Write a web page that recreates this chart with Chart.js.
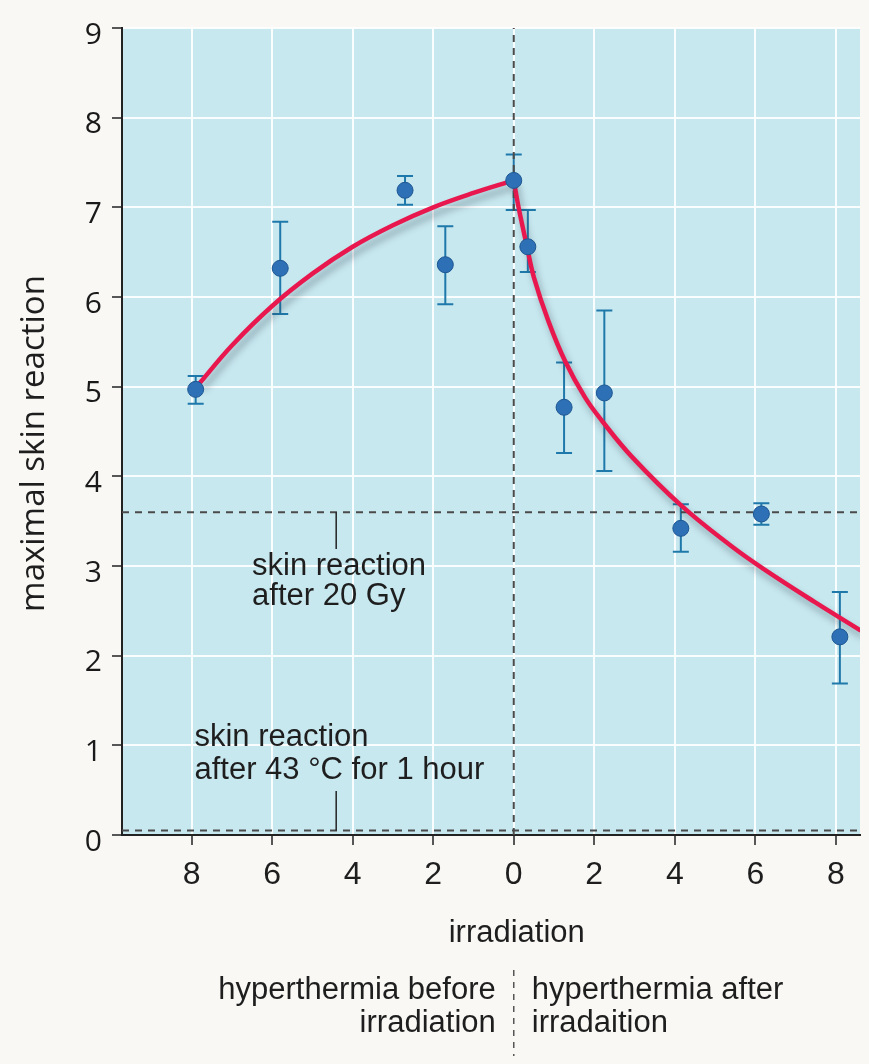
<!DOCTYPE html>
<html>
<head>
<meta charset="utf-8">
<script src="https://cdn.jsdelivr.net/npm/chart.js@4.4.1/dist/chart.umd.min.js"></script>
<style>
  html, body { margin: 0; padding: 0; background: #f9f8f5; }
  canvas { display: block; }
</style>
</head>
<body>
<canvas id="chart" width="869" height="1064"></canvas>
<script>
// measured points (hours between hyperthermia and irradiation; negative = before)
var pointX   = [-7.9, -5.8, -2.7, -1.7, 0.0, 0.35, 1.25, 2.25, 4.15, 6.15, 8.1];
var pointY   = [4.97, 6.32, 7.19, 6.36, 7.30, 6.56, 4.77, 4.93, 3.42, 3.58, 2.21];
var errHigh  = [5.12, 6.84, 7.35, 6.79, 7.59, 6.97, 5.27, 5.85, 3.69, 3.70, 2.71];
var errLow   = [4.81, 5.81, 7.03, 5.92, 6.97, 6.28, 4.26, 4.06, 3.16, 3.46, 1.69];

// fitted curve
var beforeX = [-7.8, -7, -6, -5, -4, -3, -2, -1, 0];
var beforeY = [5.04, 5.46, 5.90, 6.26, 6.56, 6.80, 7.00, 7.16, 7.30];
var afterX  = [0, 0.12, 0.33, 0.5, 0.87, 1.28, 1.77, 2.19, 2.93, 4.17, 5.41, 6.23, 7.47, 8.62];
var afterY  = [7.30, 7.00, 6.56, 6.22, 5.72, 5.28, 4.88, 4.62, 4.22, 3.67, 3.22, 2.96, 2.60, 2.28];

// reference levels
var level20Gy = 3.6;
var levelHeat = 0.05;

var xMin = -9.73, xMax = 8.6;
var yMin = 0, yMax = 9;
var xTickValues = [-8, -6, -4, -2, 0, 2, 4, 6, 8];

function zip(xs, ys) {
    return xs.map(function(x, i) { return { x: x, y: ys[i] }; });
}

var LABEL_FONT = '"Liberation Sans", Arial, sans-serif';
var NUM_FONT = '"Open Sans", "Noto Sans", sans-serif';

var backgroundPlugin = {
    id: 'background',
    beforeDraw: function(chart) {
        var ctx = chart.ctx, a = chart.chartArea;
        ctx.save();
        ctx.fillStyle = '#f9f8f5';
        ctx.fillRect(0, 0, chart.width, chart.height);
        ctx.fillStyle = '#c8e8f0';
        ctx.fillRect(a.left, a.top, a.right - a.left, a.bottom - a.top);
        ctx.restore();
    }
};

var errorBarPlugin = {
    id: 'errorBars',
    beforeDatasetsDraw: function(chart) {
        var ctx = chart.ctx, xs = chart.scales.x, ys = chart.scales.y;
        ctx.save();
        ctx.strokeStyle = '#1f78aa';
        ctx.lineWidth = 2;
        pointX.forEach(function(x, i) {
            var px = xs.getPixelForValue(x);
            var top = ys.getPixelForValue(errHigh[i]);
            var bot = ys.getPixelForValue(errLow[i]);
            ctx.beginPath();
            ctx.moveTo(px, top); ctx.lineTo(px, bot);
            ctx.moveTo(px - 8, top); ctx.lineTo(px + 8, top);
            ctx.moveTo(px - 8, bot); ctx.lineTo(px + 8, bot);
            ctx.stroke();
        });
        ctx.restore();
    },
    beforeDatasetDraw: function(chart, args) {
        var ds = chart.data.datasets[args.index];
        if (ds.shadow) {
            chart.ctx.save();
            chart.ctx.shadowColor = 'rgba(40,60,70,0.4)';
            chart.ctx.shadowBlur = 7;
            chart.ctx.shadowOffsetX = 3;
            chart.ctx.shadowOffsetY = 6;
        }
    },
    afterDatasetDraw: function(chart, args) {
        if (chart.data.datasets[args.index].shadow) chart.ctx.restore();
    }
};

var textPlugin = {
    id: 'texts',
    afterDraw: function(chart) {
        var ctx = chart.ctx, xs = chart.scales.x, ys = chart.scales.y, a = chart.chartArea;
        ctx.save();
        ctx.fillStyle = '#1e1e1e';
        ctx.textBaseline = 'alphabetic';

        // notes inside the plot
        ctx.font = '31px ' + LABEL_FONT;
        ctx.textAlign = 'left';
        ctx.fillText('skin reaction', xs.getPixelForValue(-6.5), ys.getPixelForValue(2.9));
        ctx.fillText('after 20 Gy', xs.getPixelForValue(-6.5), ys.getPixelForValue(2.57));
        ctx.fillText('skin reaction', xs.getPixelForValue(-7.93), ys.getPixelForValue(0.99));
        ctx.fillText('after 43 \u00B0C for 1 hour', xs.getPixelForValue(-7.93), ys.getPixelForValue(0.63));

        // y title
        ctx.font = '33px ' + NUM_FONT;
        ctx.textAlign = 'center';
        ctx.textBaseline = 'middle';
        ctx.translate(35, (a.top + a.bottom) / 2 + 12);
        ctx.rotate(-Math.PI / 2);
        ctx.fillText('maximal skin reaction', 0, 0);
        ctx.restore();

        // below the axis
        var x0 = xs.getPixelForValue(0);
        ctx.save();
        ctx.fillStyle = '#1e1e1e';
        ctx.font = '31px ' + LABEL_FONT;
        ctx.textBaseline = 'alphabetic';
        ctx.textAlign = 'center';
        ctx.fillText('irradiation', x0 + 3, 942);
        ctx.textAlign = 'right';
        ctx.fillText('hyperthermia before', x0 - 18, 999);
        ctx.fillText('irradiation', x0 - 18, 1032);
        ctx.textAlign = 'left';
        ctx.fillText('hyperthermia after', x0 + 18, 999);
        ctx.fillText('irradaition', x0 + 18, 1032);

        ctx.strokeStyle = '#555';
        ctx.lineWidth = 1.5;
        ctx.setLineDash([6, 6]);
        ctx.beginPath();
        ctx.moveTo(x0, 970);
        ctx.lineTo(x0, 1056);
        ctx.stroke();
        ctx.restore();
    }
};

var dashed = { borderColor: '#4a4a4a', borderWidth: 2, borderDash: [7, 6], pointRadius: 0, showLine: true, fill: false };
var curve = { showLine: true, borderColor: '#e8184f', borderWidth: 4.5, pointRadius: 0, tension: 0.4, fill: false, shadow: true };
var leader = { showLine: true, borderColor: '#222', borderWidth: 1.5, pointRadius: 0 };

new Chart(document.getElementById('chart'), {
    type: 'scatter',
    data: {
        datasets: [
            {
                label: 'measured',
                data: zip(pointX, pointY),
                pointRadius: 8,
                pointBackgroundColor: '#2d70b6',
                pointBorderColor: '#1d5792',
                pointBorderWidth: 1,
            },
            Object.assign({ label: 'before', data: zip(beforeX, beforeY) }, curve),
            Object.assign({ label: 'after', data: zip(afterX, afterY) }, curve),
            Object.assign({ label: 'note 20 Gy', data: [{ x: -4.41, y: level20Gy }, { x: -4.41, y: 3.19 }] }, leader),
            Object.assign({ label: 'note heat', data: [{ x: -4.41, y: levelHeat }, { x: -4.41, y: 0.49 }] }, leader),
            Object.assign({ label: '20 Gy', data: [{ x: xMin, y: level20Gy }, { x: xMax, y: level20Gy }] }, dashed),
            Object.assign({ label: '43 C', data: [{ x: xMin, y: levelHeat }, { x: xMax, y: levelHeat }] }, dashed),
            Object.assign({ label: 'irradiation', data: [{ x: 0, y: yMin }, { x: 0, y: yMax }] }, dashed),
        ],
    },
    options: {
        responsive: false,
        animation: false,
        layout: { padding: { top: 24, right: -5, left: 0, bottom: 0 } },
        plugins: { legend: { display: false }, tooltip: { enabled: false } },
        scales: {
            x: {
                type: 'linear',
                min: xMin,
                max: xMax,
                afterBuildTicks: function(s) { s.ticks = xTickValues.map(function(v) { return { value: v }; }); },
                afterFit: function(s) { s.height = 1064 - 835; s.paddingRight = 0; },
                grid: { color: 'rgba(255,255,255,0.9)', lineWidth: 2, tickColor: '#222', tickWidth: 1.5, tickLength: 10 },
                border: { color: '#222', width: 2 },
                ticks: {
                    padding: 11,
                    color: '#1e1e1e',
                    font: { family: LABEL_FONT, size: 32 },
                    maxRotation: 0,
                    callback: function(v) { return Math.abs(v); },
                },
            },
            y: {
                min: yMin,
                max: yMax,
                afterFit: function(s) { s.width = 122; },
                grid: { color: 'rgba(255,255,255,0.9)', lineWidth: 2, tickColor: '#222', tickWidth: 1.5, tickLength: 10 },
                border: { color: '#222', width: 2 },
                ticks: {
                    stepSize: 1,
                    padding: 10,
                    labelOffset: 7,
                    color: '#1a1a1a',
                    font: { family: NUM_FONT, size: 30 },
                },
            },
        },
    },
    plugins: [backgroundPlugin, errorBarPlugin, textPlugin],
});
</script>
</body>
</html>
